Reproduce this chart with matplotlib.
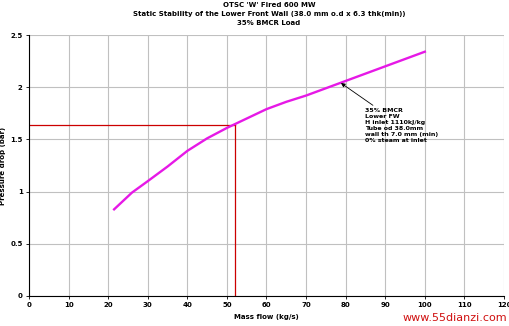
import matplotlib
matplotlib.use("Agg")
import matplotlib.pyplot as plt

# Curve
mass_flow = [21.5, 26, 30, 35, 40, 45, 50, 55, 60, 65, 70, 75, 80, 85, 90, 95, 100]
pressure_drop = [0.83, 0.99, 1.10, 1.24, 1.39, 1.51, 1.61, 1.70, 1.79, 1.86, 1.92, 1.99,
                 2.06, 2.13, 2.20, 2.27, 2.34]

# Operating point
op_flow = 52
op_dp = 1.64

title_lines = [
    "OTSC 'W' Fired 600 MW",
    "Static Stability of the Lower Front Wall (38.0 mm o.d x 6.3 thk(min))",
    "35% BMCR Load",
]
note_lines = [
    "35% BMCR",
    "Lower FW",
    "H inlet 1110kJ/kg",
    "Tube od 38.0mm",
    "wall th 7.0 mm (min)",
    "0% steam at inlet",
]

fig = plt.figure(figsize=(5.1, 3.26), dpi=100, facecolor="white")
ax = fig.add_axes([29 / 510, 30 / 326, 475 / 510, 261 / 326])

ax.plot(mass_flow, pressure_drop, color="#e619e6", lw=1.7, zorder=3)
ax.plot([0, op_flow], [op_dp, op_dp], color="#cc0000", lw=0.9, zorder=2)
ax.plot([op_flow, op_flow], [0, op_dp], color="#cc0000", lw=0.9, zorder=2)

ax.annotate(
    "\n".join(note_lines),
    xy=(78.8, 2.04), xytext=(85.0, 1.80),
    fontsize=4.5, fontweight="bold", va="top", ha="left", linespacing=1.25,
    arrowprops=dict(arrowstyle="-|>", color="black", lw=0.6, mutation_scale=6,
                    shrinkA=0, shrinkB=0),
)

ax.set_xlim(0, 120)
ax.set_ylim(0, 2.5)
ax.set_xticks(range(0, 121, 10))
ax.set_yticks([0, 0.5, 1, 1.5, 2, 2.5])
ax.set_yticklabels(["0", "0.5", "1", "1.5", "2", "2.5"])
ax.grid(True, color="#c0c0c0", lw=0.8)
ax.set_axisbelow(True)
ax.tick_params(labelsize=5, length=2.5, width=0.6, pad=2)
for lbl in ax.get_xticklabels() + ax.get_yticklabels():
    lbl.set_fontweight("bold")
for side in ("top", "right"):
    ax.spines[side].set_visible(False)
for side in ("left", "bottom"):
    ax.spines[side].set_linewidth(0.8)

ax.set_xlabel("Mass flow (kg/s)", fontsize=5, fontweight="bold", labelpad=4)
ax.set_ylabel("Pressure drop (bar)", fontsize=5, fontweight="bold", labelpad=3)

for i, line in enumerate(title_lines):
    fig.text(269 / 510, 1 - (5 + 9 * i) / 326, line, ha="center", va="center",
             fontsize=5, fontweight="bold")

fig.text(1 - 3 / 510, 1 - 318 / 326, "www.55dianzi.com", ha="right", va="center",
         fontsize=8, color="#d01010")

fig.savefig("out.png", dpi=100, facecolor="white")
